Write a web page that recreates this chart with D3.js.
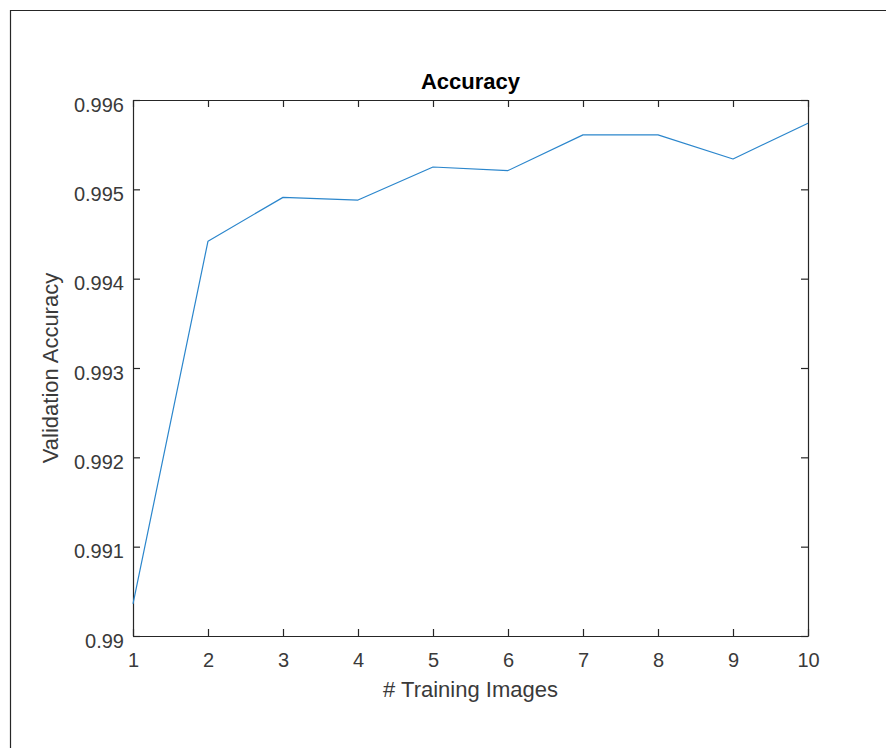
<!DOCTYPE html>
<html>
<head>
<meta charset="utf-8">
<script src="https://cdn.jsdelivr.net/npm/d3@7"></script>
<style>
  body { margin: 0; background: #fff; }
  svg { display: block; }
</style>
</head>
<body>
<div id="chart"></div>
<script>
// values
const trainingImages = [1, 2, 3, 4, 5, 6, 7, 8, 9, 10];
const accuracy = [0.99036, 0.99442, 0.99491, 0.99488, 0.99525, 0.99521, 0.99561, 0.99561, 0.99534, 0.99574];
const yTicks = [0.99, 0.991, 0.992, 0.993, 0.994, 0.995, 0.996];
const yTickLabels = ["0.99", "0.991", "0.992", "0.993", "0.994", "0.995", "0.996"];
const xTicks = [1, 2, 3, 4, 5, 6, 7, 8, 9, 10];

const width = 886, height = 748;
const margin = { top: 100, right: 78, bottom: 112, left: 133 };
const font = "'Liberation Sans', Arial, Helvetica, sans-serif";
const axisColor = "#262626";
const labelColor = "#3a3a3a";
const tickLen = 7;

const svg = d3.select("#chart")
    .append("svg")
    .attr("width", width)
    .attr("height", height)
    .attr("font-family", font);

// figure frame (clipped on right/bottom like the screenshot)
svg.append("path")
    .attr("d", `M10.5,${height} V10.5 H${width}`)
    .attr("fill", "none")
    .attr("stroke", axisColor)
    .attr("stroke-width", 1.2);

const xScale = d3.scaleLinear()
    .domain([1, 10])
    .range([margin.left, width - margin.right]);

const yScale = d3.scaleLinear()
    .domain([0.99, 0.996])
    .range([height - margin.bottom, margin.top]);

const x0 = xScale.range()[0], x1 = xScale.range()[1];
const y0 = yScale.range()[0], y1 = yScale.range()[1];

// bottom axis, ticks pointing inward
const xAxis = svg.append("g")
    .attr("transform", `translate(0,${y0})`)
    .call(d3.axisBottom(xScale).tickValues(xTicks).tickSizeInner(-tickLen).tickSizeOuter(0).tickPadding(17).tickFormat(d3.format("d")));
xAxis.selectAll("text").attr("font-size", 20).attr("fill", labelColor).attr("font-family", font);

// top axis, no labels
const xTop = svg.append("g")
    .attr("transform", `translate(0,${y1})`)
    .call(d3.axisTop(xScale).tickValues(xTicks).tickSizeInner(-tickLen).tickSizeOuter(0).tickFormat(""));

// left axis
const yAxis = svg.append("g")
    .attr("transform", `translate(${x0},0)`)
    .call(d3.axisLeft(yScale).tickValues(yTicks).tickSizeInner(-tickLen).tickSizeOuter(0).tickPadding(9)
        .tickFormat((d, i) => yTickLabels[i]));
yAxis.selectAll("text").attr("font-size", 20).attr("fill", labelColor).attr("dy", "0.55em").attr("font-family", font);

// right axis, no labels
const yRight = svg.append("g")
    .attr("transform", `translate(${x1},0)`)
    .call(d3.axisRight(yScale).tickValues(yTicks).tickSizeInner(-tickLen).tickSizeOuter(0).tickFormat(""));

[xAxis, xTop, yAxis, yRight].forEach(g => {
    g.select(".domain").attr("stroke", axisColor).attr("stroke-width", 1.2);
    g.selectAll(".tick line").attr("stroke", axisColor).attr("stroke-width", 1.2);
});

// data line
const line = d3.line()
    .x((d, i) => xScale(trainingImages[i]))
    .y(d => yScale(d));

svg.append("path")
    .datum(accuracy)
    .attr("fill", "none")
    .attr("stroke", "#2b86cc")
    .attr("stroke-width", 1.2)
    .attr("stroke-linejoin", "round")
    .attr("d", line);

// title
svg.append("text")
    .attr("x", (x0 + x1) / 2)
    .attr("y", 89)
    .attr("text-anchor", "middle")
    .attr("font-size", 22)
    .attr("font-weight", "bold")
    .attr("fill", "#000")
    .text("Accuracy");

// x label
svg.append("text")
    .attr("x", (x0 + x1) / 2)
    .attr("y", 697)
    .attr("text-anchor", "middle")
    .attr("font-size", 22)
    .attr("fill", labelColor)
    .text("# Training Images");

// y label
svg.append("text")
    .attr("transform", `translate(58,${(y0 + y1) / 2}) rotate(-90)`)
    .attr("text-anchor", "middle")
    .attr("font-size", 22)
    .attr("fill", labelColor)
    .text("Validation Accuracy");
</script>
</body>
</html>
